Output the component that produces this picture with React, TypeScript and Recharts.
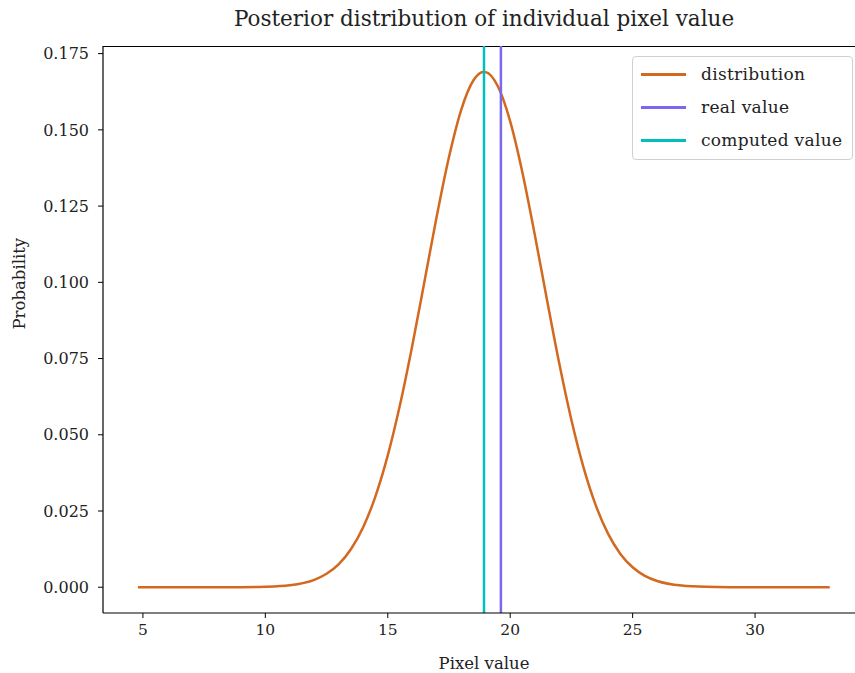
import React from "react";
import { LineChart, Line, XAxis, YAxis, ReferenceLine } from "recharts";

// x positions and posterior probability
const pixelValues = [
  4.8, 5, 6, 7, 8, 9, 10, 11, 12, 12.5, 13, 13.5, 14, 14.5, 15, 15.5, 16, 16.5,
  17, 17.5, 18, 18.5, 18.9, 19, 19.5, 20, 20.5, 21, 21.5, 22, 22.5, 23, 23.5,
  24, 24.5, 25, 25.5, 26, 27, 28, 29, 30, 31, 32, 33.05,
];
const probabilities = [
  0, 0, 0, 0, 0, 0.00001, 0.00015, 0.00066, 0.00244, 0.0044, 0.00758,
  0.01253, 0.01978, 0.0299, 0.04324, 0.05983, 0.07921, 0.10035, 0.12164,
  0.14109, 0.15658, 0.16626, 0.169, 0.16893, 0.16422, 0.15276, 0.13595,
  0.11578, 0.09434, 0.07355, 0.05487, 0.03916, 0.02675, 0.01748, 0.01093,
  0.00654, 0.00374, 0.00205, 0.00054, 0.00012, 0.00002, 0, 0, 0, 0,
];
const realValue = 19.62;
const computedValue = 18.93;

const xTicks = [5, 10, 15, 20, 25, 30];
const yTicks = [0, 0.025, 0.05, 0.075, 0.1, 0.125, 0.15, 0.175];

const legendItems = [
  { name: "distribution", color: "#d2691e" },
  { name: "real value", color: "#7b68ee" },
  { name: "computed value", color: "#00bfbf" },
];

const data = pixelValues.map((x, i) => ({ x, p: probabilities[i] }));

const font = "'DejaVu Serif', serif";

function LegendBox() {
  return (
    <div
      style={{
        position: "absolute",
        left: 632,
        top: 56,
        width: 219,
        height: 102,
        border: "1px solid #d0d0d0",
        borderRadius: 4,
        background: "rgba(255,255,255,0.8)",
        fontFamily: font,
        fontSize: 17,
        color: "#222",
      }}
    >
      {legendItems.map((item, i) => (
        <div
          key={item.name}
          style={{ position: "absolute", left: 8, top: 6 + i * 33, height: 22, display: "flex", alignItems: "center" }}
        >
          <span style={{ display: "inline-block", width: 45, height: 3, background: item.color }} />
          <span style={{ marginLeft: 15, whiteSpace: "nowrap", letterSpacing: 0.3 }}>{item.name}</span>
        </div>
      ))}
    </div>
  );
}

export default function App() {
  return (
    <div
      style={{
        position: "absolute",
        left: 0,
        top: 0,
        width: 855,
        height: 673,
        overflow: "hidden",
        background: "#fff",
        fontFamily: font,
      }}
    >
      <div
        style={{
          position: "absolute",
          left: 103,
          width: 762,
          top: 6,
          textAlign: "center",
          fontSize: 21.5,
          color: "#222",
        }}
      >
        Posterior distribution of individual pixel value
      </div>
      {/* top spine */}
      <div style={{ position: "absolute", left: 103, top: 45.5, width: 770, height: 1.2, background: "#000" }} />
      <LineChart width={870} height={673} data={data} margin={{ top: 46, right: 5, bottom: 0, left: 0 }}>
        <XAxis
          dataKey="x"
          type="number"
          domain={[3.37, 34.49]}
          ticks={xTicks}
          height={60}
          tickSize={5}
          tickMargin={6}
          axisLine={{ stroke: "#000", strokeWidth: 1.2 }}
          tickLine={{ stroke: "#000" }}
          tick={{ fill: "#222", fontSize: 15.5, fontFamily: font }}
          label={{ value: "Pixel value", position: "insideBottom", offset: 4, fill: "#222", fontSize: 16.5, fontFamily: font }}
        />
        <YAxis
          type="number"
          domain={[-0.00845, 0.1775]}
          ticks={yTicks}
          width={103}
          tickSize={5}
          tickMargin={9}
          tickFormatter={(v: number) => v.toFixed(3)}
          axisLine={{ stroke: "#000", strokeWidth: 1.2 }}
          tickLine={{ stroke: "#000" }}
          tick={{ fill: "#222", fontSize: 16, fontFamily: font }}
          label={{ value: "Probability", angle: -90, position: "insideLeft", offset: 19, fill: "#222", fontSize: 16.5, fontFamily: font }}
        />
        <Line
          type="monotone"
          dataKey="p"
          stroke="#d2691e"
          strokeWidth={2.5}
          dot={false}
          isAnimationActive={false}
        />
        <ReferenceLine x={realValue} stroke="#7b68ee" strokeWidth={2.5} />
        <ReferenceLine x={computedValue} stroke="#00bfbf" strokeWidth={2.5} />
      </LineChart>
      <LegendBox />
    </div>
  );
}
